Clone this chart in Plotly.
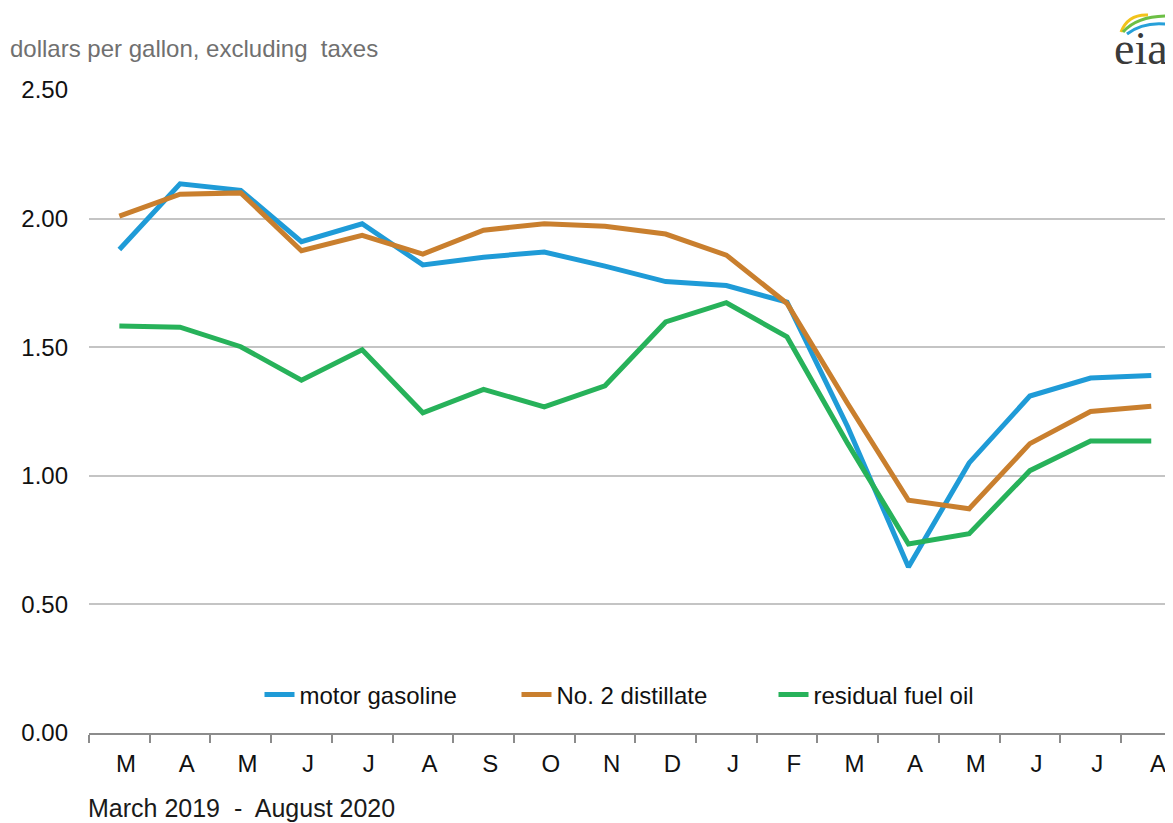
import plotly.graph_objects as go

# ---- data ----
periods = ["Mar 2019", "Apr 2019", "May 2019", "Jun 2019", "Jul 2019", "Aug 2019",
           "Sep 2019", "Oct 2019", "Nov 2019", "Dec 2019", "Jan 2020", "Feb 2020",
           "Mar 2020", "Apr 2020", "May 2020", "Jun 2020", "Jul 2020", "Aug 2020"]
month_labels = ["M", "A", "M", "J", "J", "A", "S", "O", "N", "D", "J", "F",
                "M", "A", "M", "J", "J", "A"]
motor_gasoline = [1.88, 2.135, 2.11, 1.91, 1.98, 1.82, 1.85, 1.87, 1.815, 1.755,
                  1.74, 1.675, 1.19, 0.645, 1.05, 1.31, 1.38, 1.39]
no2_distillate = [2.01, 2.095, 2.10, 1.875, 1.935, 1.862, 1.955, 1.98, 1.97, 1.94,
                  1.858, 1.67, 1.28, 0.905, 0.872, 1.125, 1.25, 1.27]
residual_fuel = [1.582, 1.578, 1.502, 1.372, 1.49, 1.245, 1.336, 1.268, 1.35, 1.598,
                 1.673, 1.54, 1.125, 0.735, 0.775, 1.02, 1.135, 1.135]
y_ticks = [0.0, 0.5, 1.0, 1.5, 2.0, 2.5]
y_tick_text = ["0.00", "0.50", "1.00", "1.50", "2.00", "2.50"]

# page has an 8px body margin; work in screen pixels and convert
OFF = 8
SCREEN_W, SCREEN_H = 1173, 823
W, H = SCREEN_W - OFF, SCREEN_H - OFF
PLOT_L, PLOT_T, PLOT_B = 89, 90, 733          # screen px
ML, MT = PLOT_L - OFF, PLOT_T - OFF
MB = H - (PLOT_B - OFF)
MR = 0
PW, PH = W - ML - MR, H - MT - MB
CAT_PX = 60.7
xmax = -0.5 + PW / CAT_PX


def px(xs):
    return (xs - PLOT_L) / PW


def py(ys):
    return (PLOT_B - ys) / PH


FONT = "Liberation Sans, Arial, sans-serif"

fig = go.Figure()
series = [("motor gasoline", motor_gasoline, "#1f9bd7"),
          ("No. 2 distillate", no2_distillate, "#c97f2e"),
          ("residual fuel oil", residual_fuel, "#27b25a")]
for name, vals, col in series:
    fig.add_trace(go.Scatter(x=periods, y=vals, mode="lines", name=name,
                             line=dict(color=col, width=5)))

# labels in the reference sit slightly right of the category centres
shifted_labels = ["\u00a0\u00a0" + m for m in month_labels]

fig.update_layout(
    width=W, height=H,
    margin=dict(l=ML, r=MR, t=MT, b=MB),
    paper_bgcolor="white", plot_bgcolor="white",
    font=dict(family=FONT, size=24, color="#111"),
    showlegend=True,
    legend=dict(orientation="h", x=px(645), xanchor="center", y=py(695), yanchor="middle",
                font=dict(size=24, color="#111"), bgcolor="rgba(0,0,0,0)",
                itemwidth=30, tracegroupgap=0, entrywidth=212),
    xaxis=dict(type="category", range=[-0.5, xmax], tickmode="array",
               tickvals=periods, ticktext=shifted_labels, tickson="boundaries",
               ticks="outside", ticklen=8, tickwidth=2, tickcolor="#8c8c8c",
               showline=True, linecolor="#8c8c8c", linewidth=2, showgrid=False,
               ticklabelstandoff=8, tickfont=dict(size=24, color="#111")),
    yaxis=dict(range=[0, 2.5], tickmode="array", tickvals=y_ticks, ticktext=y_tick_text,
               showgrid=True, gridcolor="#c4c4c4", gridwidth=2, zeroline=False,
               showline=False, ticks="", ticklabelstandoff=20,
               tickfont=dict(size=24, color="#111")),
)

fig.add_annotation(text="dollars per gallon, excluding\u00a0 taxes", xref="paper", yref="paper",
                   x=px(8), y=py(48), xanchor="left", yanchor="middle", showarrow=False,
                   font=dict(size=24, color="#707070", family=FONT))
fig.add_annotation(text="March 2019 \u00a0-\u00a0 August 2020", xref="paper", yref="paper",
                   x=px(86), y=py(808), xanchor="left", yanchor="middle", showarrow=False,
                   font=dict(size=25, color="#1a1a1a", family=FONT))
fig.add_annotation(text="eia", xref="paper", yref="paper",
                   x=px(1141), y=py(48), xanchor="center", yanchor="middle", showarrow=False,
                   font=dict(size=46, color="#3a3a3a", family="Liberation Serif, Times New Roman, serif"))


def arc(p0, c, p1, col, w):
    path = "M {} {} Q {} {} {} {}".format(px(p0[0]), py(p0[1]), px(c[0]), py(c[1]),
                                           px(p1[0]), py(p1[1]))
    fig.add_shape(type="path", path=path, xref="paper", yref="paper",
                  line=dict(color=col, width=w), layer="above")


arc((1121, 32), (1128, 14), (1148, 15), "#f2c31b", 3)
arc((1123, 32), (1138, 15), (1171, 16), "#6cbf45", 3)
arc((1127, 34), (1145, 20), (1173, 25), "#27a0d9", 3)

fig.write_html("out.html")
